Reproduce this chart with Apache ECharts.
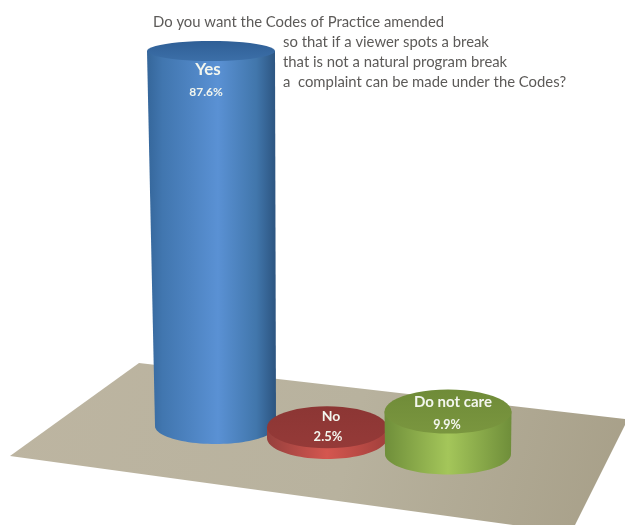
<!DOCTYPE html>
<html>
<head>
<meta charset="utf-8">
<style>html,body{margin:0;padding:0;background:#fff}#chart{width:625px;height:525px}</style>
<script src="https://cdn.jsdelivr.net/npm/echarts@6/dist/echarts.min.js"></script>
</head>
<body>
<div id="chart"></div>
<script>
// Survey answers and their share of respondents
const answers = ['Yes', 'No', 'Do not care'];
const shares = [87.6, 2.5, 9.9];

const questionLines = [
  'Do you want the Codes of Practice amended',
  'so that if a viewer spots a break',
  'that is not a natural program break',
  'a  complaint can be made under the Codes?'
];

// Perspective of each cylinder on the tilted floor, in pixels from its axis position
const cylinders = [
  { shiftX: 3.5, drop: 0, topShiftX: -1, topRx: 64, baseRx: 60.5, topRy: 10, baseRy: 18,
    nameAt: [-4, 70, 17], shareAt: [-6, 92, 12],
    side: [[0, '#35669a'], [0.12, '#4176af'], [0.55, '#5a91d4'], [0.85, '#4176ab'], [1, '#2c5480']],
    cap: ['#2f5f96', '#3c6fa8'] },
  { shiftX: -3, drop: 12, topShiftX: -3, topRx: 60, baseRx: 60, topRy: 21, baseRy: 21,
    nameAt: [1, 416, 14], shareAt: [-2, 437, 13],
    side: [[0, '#96403d'], [0.5, '#d4564f'], [1, '#a2403c']],
    cap: ['#8c3634', '#953a38'] },
  { shiftX: 0, drop: 28, topShiftX: 0, topRx: 63.5, baseRx: 63, topRy: 22, baseRy: 20.5,
    nameAt: [5, 402, 15], shareAt: [-1, 425, 12.5],
    side: [[0, '#6f8e3a'], [0.5, '#a4c65a'], [1, '#6f8e3a']],
    cap: ['#6f8b38', '#7a963f'] }
];

// Half an ellipse, sampled from angle a0 to a1
function arcPoints(cx, cy, rx, ry, a0, a1) {
  const pts = [];
  const steps = 48;
  for (let i = 0; i <= steps; i++) {
    const a = a0 + (a1 - a0) * i / steps;
    pts.push([cx + rx * Math.cos(a), cy + ry * Math.sin(a)]);
  }
  return pts;
}

function drawCylinder(params, api) {
  const idx = params.dataIndex;
  const c = cylinders[idx];
  const share = api.value(1);
  const axisX = api.coord([idx, 0])[0];
  const baseY = api.coord([idx, 0])[1] + c.drop;
  const topY = api.coord([idx, share])[1] + c.drop;
  const bx = axisX + c.shiftX;
  const tx = axisX + c.topShiftX;

  const sidePts = [[tx - c.topRx, topY], [tx + c.topRx, topY]]
    .concat(arcPoints(bx, baseY, c.baseRx, c.baseRy, 0, Math.PI));

  const label = (text, at) => ({
    type: 'text',
    style: {
      text: text,
      x: axisX + at[0],
      y: at[1],
      align: 'center',
      verticalAlign: 'middle',
      fill: '#f3f6ee',
      font: 'bold ' + at[2] + 'px Lato, sans-serif'
    }
  });

  return {
    type: 'group',
    children: [
      {
        type: 'polygon',
        shape: { points: sidePts },
        style: {
          fill: new echarts.graphic.LinearGradient(0, 0, 1, 0,
            c.side.map(s => ({ offset: s[0], color: s[1] })))
        }
      },
      {
        type: 'polygon',
        shape: { points: arcPoints(tx, topY, c.topRx, c.topRy, 0, Math.PI * 2) },
        style: {
          fill: new echarts.graphic.LinearGradient(0, 0, 0, 1, [
            { offset: 0, color: c.cap[0] },
            { offset: 1, color: c.cap[1] }
          ])
        }
      },
      label(answers[idx], c.nameAt),
      label(share.toFixed(1) + '%', c.shareAt)
    ]
  };
}

const chart = echarts.init(document.getElementById('chart'), null, { renderer: 'canvas' });

const questionAnchors = [[153, 22], [283, 42], [283, 62], [283, 82]];

chart.setOption({
  animation: false,
  backgroundColor: '#ffffff',
  grid: { left: 153, width: 354, top: 40.7, height: 385.3 },
  xAxis: { type: 'category', data: answers, show: false },
  yAxis: { type: 'value', min: 0, max: 90, interval: 10, show: false },
  // Floor under the cylinders and the question text
  graphic: [
    {
      type: 'polygon',
      z: 0,
      shape: { points: [[139, 363], [625, 419], [625, 425], [575, 525], [513, 525], [10, 456]] },
      style: {
        fill: new echarts.graphic.LinearGradient(0, 0, 1, 1, [
          { offset: 0, color: '#bdb5a1' },
          { offset: 0.55, color: '#b8b29e' },
          { offset: 1, color: '#a79f88' }
        ])
      }
    }
  ].concat(questionLines.map((line, i) => ({
    type: 'text',
    z: 5,
    style: {
      text: line,
      x: questionAnchors[i][0],
      y: questionAnchors[i][1],
      verticalAlign: 'middle',
      fill: '#5c5a58',
      font: '14.85px Lato, sans-serif'
    }
  }))),
  series: [
    {
      type: 'custom',
      renderItem: drawCylinder,
      clip: false,
      data: answers.map((a, i) => [i, shares[i]])
    }
  ]
});
</script>
</body>
</html>
